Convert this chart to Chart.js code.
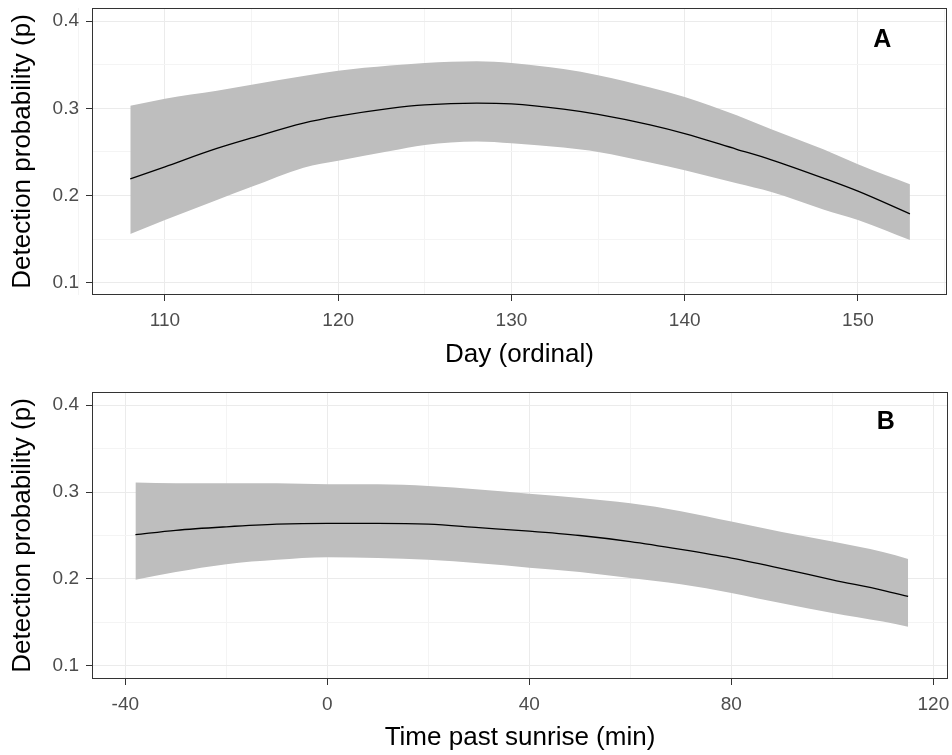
<!DOCTYPE html>
<html>
<head>
<meta charset="utf-8">
<script src="https://cdn.jsdelivr.net/npm/chart.js@4"></script>
<style>
  body { margin: 0; background: #ffffff; }
  canvas { display: block; }
</style>
</head>
<body>
<canvas id="chartDay" width="952" height="377"></canvas>
<canvas id="chartTime" width="952" height="378"></canvas>
<script>
// Panel A: day of year
const dayValues = [108, 110, 113, 115, 118, 120, 123, 125, 128, 130, 133, 135, 138, 140, 143, 145, 148, 150, 153];
const dayMean = [0.219, 0.233, 0.254, 0.266, 0.283, 0.291, 0.300, 0.304, 0.306, 0.305, 0.299, 0.293, 0.281, 0.271, 0.253, 0.241, 0.220, 0.205, 0.179];
const dayUpper = [0.303, 0.311, 0.320, 0.327, 0.337, 0.343, 0.349, 0.352, 0.354, 0.352, 0.345, 0.338, 0.324, 0.313, 0.292, 0.276, 0.253, 0.236, 0.213];
const dayLower = [0.156, 0.172, 0.195, 0.210, 0.232, 0.240, 0.251, 0.258, 0.262, 0.260, 0.255, 0.250, 0.238, 0.229, 0.214, 0.204, 0.184, 0.172, 0.149];

// Panel B: minutes after sunrise
const timeValues = [-38, -30, -20, -10, 0, 10, 20, 30, 40, 50, 60, 70, 80, 90, 100, 110, 115];
const timeMean = [0.251, 0.256, 0.260, 0.263, 0.264, 0.264, 0.263, 0.259, 0.255, 0.250, 0.243, 0.234, 0.224, 0.212, 0.199, 0.187, 0.180];
const timeUpper = [0.311, 0.310, 0.310, 0.310, 0.309, 0.309, 0.307, 0.303, 0.298, 0.293, 0.287, 0.278, 0.266, 0.254, 0.243, 0.231, 0.223];
const timeLower = [0.199, 0.208, 0.217, 0.222, 0.225, 0.224, 0.222, 0.218, 0.213, 0.208, 0.201, 0.194, 0.184, 0.172, 0.161, 0.151, 0.145];

// tick labels and minor grid positions
const dayTicks = [110, 120, 130, 140, 150];
const dayMinor = [105, 115, 125, 135, 145, 155];
const timeTicks = [-40, 0, 40, 80, 120];
const timeMinor = [-20, 20, 60, 100];
const probTicks = [0.1, 0.2, 0.3, 0.4];
const probMinor = [0.15, 0.25, 0.35];

const FONT = '"Liberation Sans", Arial, sans-serif';
Chart.defaults.font.family = FONT;

const panelPlugin = {
  id: "panel",
  afterDraw(chart, args, opts) {
    const { ctx, chartArea, scales } = chart;
    ctx.save();
    ctx.strokeStyle = "#333333";
    ctx.lineWidth = 1;
    ctx.strokeRect(chartArea.left + 0.5, chartArea.top + 0.5, chartArea.width - 1, chartArea.height - 1);
    ctx.font = "bold 25px " + FONT;
    ctx.fillStyle = "#000000";
    ctx.textAlign = "center";
    ctx.textBaseline = "middle";
    ctx.fillText(opts.letter, scales.x.getPixelForValue(opts.x), scales.y.getPixelForValue(opts.y));
    ctx.restore();
  },
};

function toPoints(xs, ys) {
  return xs.map((x, i) => ({ x: x, y: ys[i] }));
}

function returnDatasets(xs, mean, upper, lower) {
  return [
    {
      data: toPoints(xs, mean),
      borderColor: "#000000",
      borderWidth: 1.3,
      pointRadius: 0,
      cubicInterpolationMode: "monotone",
      fill: false,
    },
    {
      data: toPoints(xs, upper),
      borderWidth: 0,
      borderColor: "rgba(0,0,0,0)",
      backgroundColor: "#bebebe",
      pointRadius: 0,
      cubicInterpolationMode: "monotone",
      fill: "+1",
    },
    {
      data: toPoints(xs, lower),
      borderWidth: 0,
      borderColor: "rgba(0,0,0,0)",
      pointRadius: 0,
      cubicInterpolationMode: "monotone",
      fill: false,
    },
  ];
}

function returnAxis(cfg) {
  const all = cfg.major.concat(cfg.minor).sort((a, b) => a - b);
  const isMajor = (v) => cfg.major.includes(v);
  return {
    type: "linear",
    position: cfg.position,
    min: cfg.min,
    max: cfg.max,
    afterBuildTicks: (scale) => {
      scale.ticks = all.map((v) => ({ value: v }));
    },
    afterFit: (scale) => {
      if (cfg.position === "left") {
        scale.width = cfg.size;
        scale.paddingTop = 0;
        scale.paddingBottom = 0;
      } else {
        scale.height = cfg.size;
        scale.paddingLeft = 0;
        scale.paddingRight = 0;
      }
    },
    border: { display: false },
    grid: {
      color: (c) => (c.tick && isMajor(c.tick.value) ? "#ebebeb" : "#f4f4f4"),
      lineWidth: 1,
      tickColor: (c) => (c.tick && isMajor(c.tick.value) ? "#333333" : "rgba(0,0,0,0)"),
      tickLength: 6,
      tickWidth: 1,
    },
    ticks: {
      autoSkip: false,
      maxRotation: 0,
      padding: cfg.position === "left" ? 7 : 8,
      color: "#4d4d4d",
      font: { size: 19 },
      callback: (value) => (isMajor(value) ? cfg.format(value) : ""),
    },
    title: {
      display: true,
      text: cfg.title,
      color: "#000000",
      font: { size: 26 },
      padding: cfg.titlePadding,
    },
  };
}

function chart(id, data, xCfg, yCfg, layoutPadding, letter) {
  new Chart(document.getElementById(id), {
    type: "line",
    data: { datasets: data },
    options: {
      responsive: false,
      animation: false,
      layout: { padding: layoutPadding },
      scales: { x: returnAxis(xCfg), y: returnAxis(yCfg) },
      plugins: {
        legend: { display: false },
        tooltip: { enabled: false },
        panel: letter,
      },
    },
    plugins: [panelPlugin],
  });
}

const probAxis = (min, max) => ({
  position: "left",
  min: min,
  max: max,
  major: probTicks,
  minor: probMinor,
  format: (v) => v.toFixed(1),
  title: "Detection probability (p)",
  size: 92,
  titlePadding: { top: 7, bottom: 0 },
});

chart(
  "chartDay",
  returnDatasets(dayValues, dayMean, dayUpper, dayLower),
  {
    position: "bottom",
    min: 105.79,
    max: 155.14,
    major: dayTicks,
    minor: dayMinor,
    format: (v) => String(v),
    title: "Day (ordinal)",
    size: 82,
    titlePadding: { top: 0, bottom: 7 },
  },
  probAxis(0.086, 0.415),
  { top: 8, right: 5, left: 0, bottom: 0 },
  { letter: "A", x: 151.4, y: 0.378 }
);

chart(
  "chartTime",
  returnDatasets(timeValues, timeMean, timeUpper, timeLower),
  {
    position: "bottom",
    min: -46.6,
    max: 122.9,
    major: timeTicks,
    minor: timeMinor,
    format: (v) => String(v),
    title: "Time past sunrise (min)",
    size: 76,
    titlePadding: { top: 0, bottom: 2 },
  },
  probAxis(0.085, 0.415),
  { top: 15, right: 4, left: 0, bottom: 0 },
  { letter: "B", x: 110.6, y: 0.38 }
);
</script>
</body>
</html>
